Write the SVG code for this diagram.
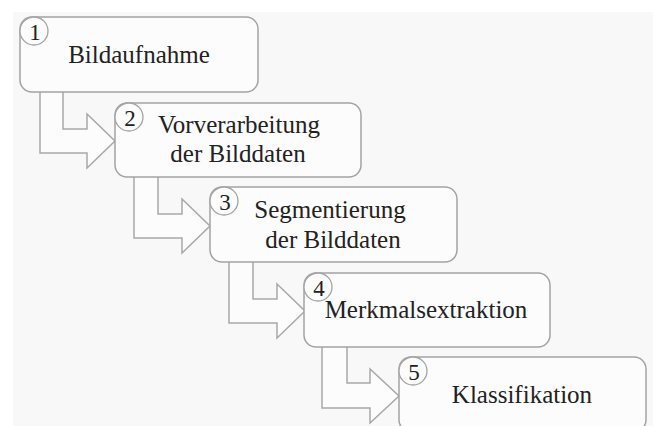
<svg xmlns="http://www.w3.org/2000/svg" width="653" height="426" viewBox="0 0 653 426">
<style>
.box{fill:#fcfcfc;stroke:#a3a3a3;stroke-width:1.5}
.num{fill:#fcfcfc;stroke:#a3a3a3;stroke-width:1.3}
.arrow{fill:#fcfcfc;stroke:#a8a8a8;stroke-width:1.5;stroke-linejoin:miter}
text{fill:#222;text-anchor:middle;font-family:"Liberation Serif","Times New Roman",serif}
.lbl{font-size:25px}
.n{font-size:23px}
</style>
<rect x="0" y="0" width="653" height="426" fill="#ffffff"/>
<rect x="13" y="12" width="640" height="414" fill="#f8f8f8"/>
<g id="connectors">
<path class="arrow" d="M40 92 V153 H87 V168 L115 141 L87 114 V129 H63 V92"/>
<path class="arrow" d="M134 177 V238 H182 V253 L210 226 L182 199 V214 H158 V177"/>
<path class="arrow" d="M229 262 V323 H277 V338 L305 311 L277 284 V299 H253 V262"/>
<path class="arrow" d="M322 347 V408 H370 V423 L399 396 L370 369 V383 H347 V347"/>
</g>
<g id="node1">
<rect class="box" x="20" y="17" width="238" height="75" rx="12"/>
<circle class="num" cx="34" cy="31" r="14"/>
<text class="n" x="35" y="40">1</text>
<text class="lbl" x="139" y="63">Bildaufnahme</text>
</g>
<g id="node2">
<rect class="box" x="115" y="103" width="246" height="74" rx="12"/>
<circle class="num" cx="129" cy="117" r="14"/>
<text class="n" x="130" y="126">2</text>
<text class="lbl" x="239" y="133">Vorverarbeitung</text>
<text class="lbl" x="238" y="162">der Bilddaten</text>
</g>
<g id="node3">
<rect class="box" x="210" y="187" width="247" height="75" rx="12"/>
<circle class="num" cx="224" cy="201" r="14"/>
<text class="n" x="225" y="210">3</text>
<text class="lbl" x="330" y="218">Segmentierung</text>
<text class="lbl" x="333" y="248">der Bilddaten</text>
</g>
<g id="node4">
<rect class="box" x="304" y="273" width="246" height="74" rx="12"/>
<circle class="num" cx="318" cy="287" r="14"/>
<text class="n" x="319" y="296">4</text>
<text class="lbl" x="426" y="318">Merkmalsextraktion</text>
</g>
<g id="node5">
<rect class="box" x="399" y="357" width="247" height="75" rx="12"/>
<circle class="num" cx="413" cy="371" r="14"/>
<text class="n" x="414" y="380">5</text>
<text class="lbl" x="522" y="403">Klassifikation</text>
</g>
</svg>
